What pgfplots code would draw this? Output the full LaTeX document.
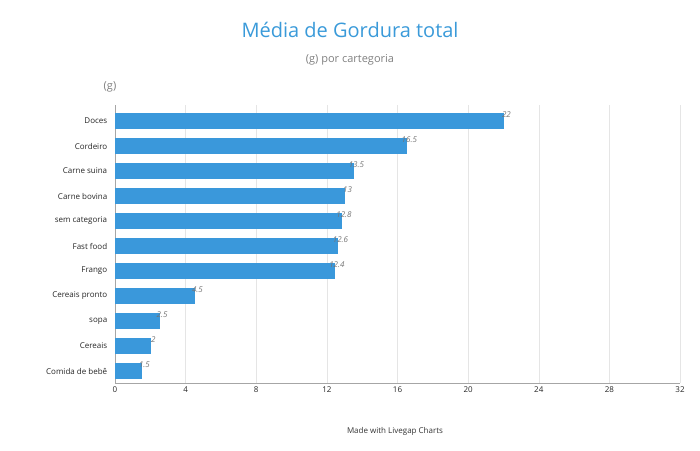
\documentclass[border=0pt]{standalone}
\usepackage{pgfplots}
\pgfplotsset{compat=1.18}
\usepackage{fontspec}
\setmainfont{Open Sans}
\definecolor{barc}{HTML}{3A98DB}
\definecolor{tc}{HTML}{3A9AD9}
\begin{document}
\begin{tikzpicture}
\path (0pt,0pt) rectangle (700pt,450pt);
\node[text=tc,font=\fontsize{20}{24}\selectfont] at (350pt,420pt) {Média de Gordura total};
\node[text=gray,font=\fontsize{11}{13}\selectfont] at (350pt,390pt) {(g) por cartegoria};
\node[text=gray,font=\fontsize{11}{13}\selectfont] at (110pt,363pt) {(g)};
\node[text=black!80,font=\fontsize{8}{10}\selectfont] at (395pt,19pt) {Made with Livegap Charts};
\begin{axis}[at={(115pt,67pt)},anchor=south west,scale only axis,width=565pt,height=278pt,
 xbar, bar width=15pt, y dir=reverse,
 xmin=0,xmax=32,ymin=-0.64,ymax=10.48,
 xtick={0,4,...,32}, ytick={0,...,10},
 yticklabels={Doces,Cordeiro,Carne suina,Carne bovina,sem categoria,Fast food,Frango,Cereais pronto,sopa,Cereais,Comida de bebê},
 /pgf/number format/assume math mode=true,
 tick label style={font=\fontsize{8}{10}\selectfont,text=black!85},
 xmajorgrids, grid style={gray!20},
 axis x line*=bottom, axis y line*=left,
 axis line style={gray!70}, tick style={draw=none},
 nodes near coords, every node near coord/.append style={font=\itshape\fontsize{8}{10}\selectfont,text=gray!90!black,xshift=3pt},
 point meta=explicit symbolic]
\addplot[fill=barc,draw=barc] coordinates {
(22,0)[22] (16.5,1)[16.5] (13.5,2)[13.5] (13,3)[13] (12.8,4)[12.8] (12.6,5)[12.6]
(12.4,6)[12.4] (4.5,7)[4.5] (2.5,8)[2.5] (2,9)[2] (1.5,10)[1.5]};
\end{axis}
\end{tikzpicture}
\end{document}
